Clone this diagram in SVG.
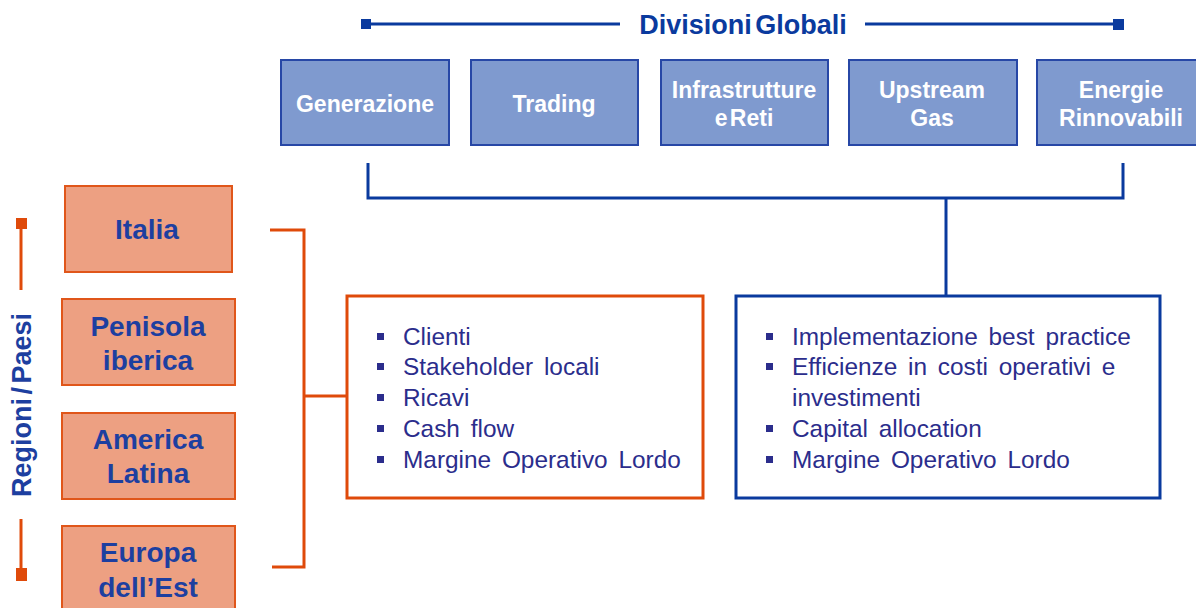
<svg xmlns="http://www.w3.org/2000/svg" width="1196" height="608" viewBox="0 0 1196 608">
<defs>
<style>
.div rect{fill:#7f9acf;stroke:#2747a6;stroke-width:2}
.div text{fill:#fff;font-family:"Liberation Sans",Arial,sans-serif;font-weight:bold;font-size:23px;text-anchor:middle}
.reg rect{fill:#eda082;stroke:#e0561a;stroke-width:2}
.reg text{fill:#1d3fa0;font-family:"Liberation Sans",Arial,sans-serif;font-weight:bold;font-size:28px;text-anchor:middle}
.title{fill:#0a3a9e;font-family:"Liberation Sans",Arial,sans-serif;font-weight:bold;font-size:27px}
.blue{stroke:#0a3a9e;stroke-width:3;fill:none}
.orange{stroke:#df4a0a;stroke-width:3;fill:none}
.list{fill:#2b2d8c;font-family:"Liberation Sans",Arial,sans-serif;font-size:24.4px;word-spacing:4px}
.bul{fill:#2b2d8c}
</style>
</defs>
<rect width="1196" height="608" fill="#fff"/>

<g id="title">
<line class="blue" x1="366" y1="24" x2="620" y2="24"/>
<rect x="361" y="19" width="10" height="10" fill="#0a3a9e"/>
<line class="blue" x1="865" y1="24" x2="1118" y2="24"/>
<rect x="1113" y="19" width="11" height="11" fill="#0a3a9e"/>
<text class="title" x="743" y="34" text-anchor="middle" word-spacing="-4">Divisioni Globali</text>
</g>

<g id="side-label">
<line class="orange" x1="21" y1="224" x2="21" y2="290"/>
<rect x="16" y="218" width="11" height="11" fill="#df4a0a"/>
<line class="orange" x1="21" y1="519" x2="21" y2="574"/>
<rect x="16" y="568" width="11" height="13" fill="#df4a0a"/>
<text x="31" y="405" transform="rotate(-90 31 405)" text-anchor="middle" fill="#1d3fa0" font-family="'Liberation Sans',Arial,sans-serif" font-weight="bold" font-size="27" word-spacing="-4">Regioni / Paesi</text>
</g>

<g id="div-generazione" class="div"><rect x="281" y="60" width="168" height="85"/><text x="365" y="112">Generazione</text></g>
<g id="div-trading" class="div"><rect x="471" y="60" width="167" height="85"/><text x="554" y="112">Trading</text></g>
<g id="div-infrastrutture" class="div"><rect x="661" y="60" width="167" height="85"/><text x="744" y="98">Infrastrutture</text><text x="744" y="126" word-spacing="-4">e Reti</text></g>
<g id="div-upstream" class="div"><rect x="849" y="60" width="168" height="85"/><text x="932" y="98">Upstream</text><text x="932" y="126">Gas</text></g>
<g id="div-energie" class="div"><rect x="1037" y="60" width="168" height="85"/><text x="1121" y="98">Energie</text><text x="1121" y="126">Rinnovabili</text></g>

<g id="reg-italia" class="reg"><rect x="65" y="186" width="167" height="86"/><text x="147" y="239">Italia</text></g>
<g id="reg-penisola" class="reg"><rect x="62" y="299" width="173" height="86"/><text x="148" y="336">Penisola</text><text x="148" y="370">iberica</text></g>
<g id="reg-america" class="reg"><rect x="62" y="413" width="173" height="86"/><text x="148" y="449">America</text><text x="148" y="483">Latina</text></g>
<g id="reg-europa" class="reg"><rect x="62" y="526" width="173" height="90"/><text x="148" y="562">Europa</text><text x="148" y="597">dell’Est</text></g>

<g id="box-regioni">
<rect x="347" y="296" width="356" height="202" fill="#fff" stroke="#df4a0a" stroke-width="3"/>
<g class="bul">
<rect x="377" y="333" width="7" height="7"/>
<rect x="377" y="363" width="7" height="7"/>
<rect x="377" y="394" width="7" height="7"/>
<rect x="377" y="425" width="7" height="7"/>
<rect x="377" y="456" width="7" height="7"/>
</g>
<text class="list" x="403" y="345">Clienti</text>
<text class="list" x="403" y="375">Stakeholder locali</text>
<text class="list" x="403" y="406">Ricavi</text>
<text class="list" x="403" y="437">Cash flow</text>
<text class="list" x="403" y="468">Margine Operativo Lordo</text>
</g>

<g id="box-divisioni">
<rect x="736" y="296" width="424" height="202" fill="#fff" stroke="#0a3a9e" stroke-width="3"/>
<g class="bul">
<rect x="766" y="333" width="7" height="7"/>
<rect x="766" y="363" width="7" height="7"/>
<rect x="766" y="425" width="7" height="7"/>
<rect x="766" y="456" width="7" height="7"/>
</g>
<text class="list" x="792" y="345">Implementazione best practice</text>
<text class="list" x="792" y="375">Efficienze in costi operativi e</text>
<text class="list" x="792" y="406">investimenti</text>
<text class="list" x="792" y="437">Capital allocation</text>
<text class="list" x="792" y="468">Margine Operativo Lordo</text>
</g>

<g id="connectors">
<polyline class="blue" points="368,163 368,198 1123,198 1123,163"/>
<line class="blue" x1="946" y1="198" x2="946" y2="296"/>
<polyline class="orange" points="270,230 304,230 304,567 272,567"/>
<line class="orange" x1="304" y1="396" x2="347" y2="396"/>
</g>
</svg>
